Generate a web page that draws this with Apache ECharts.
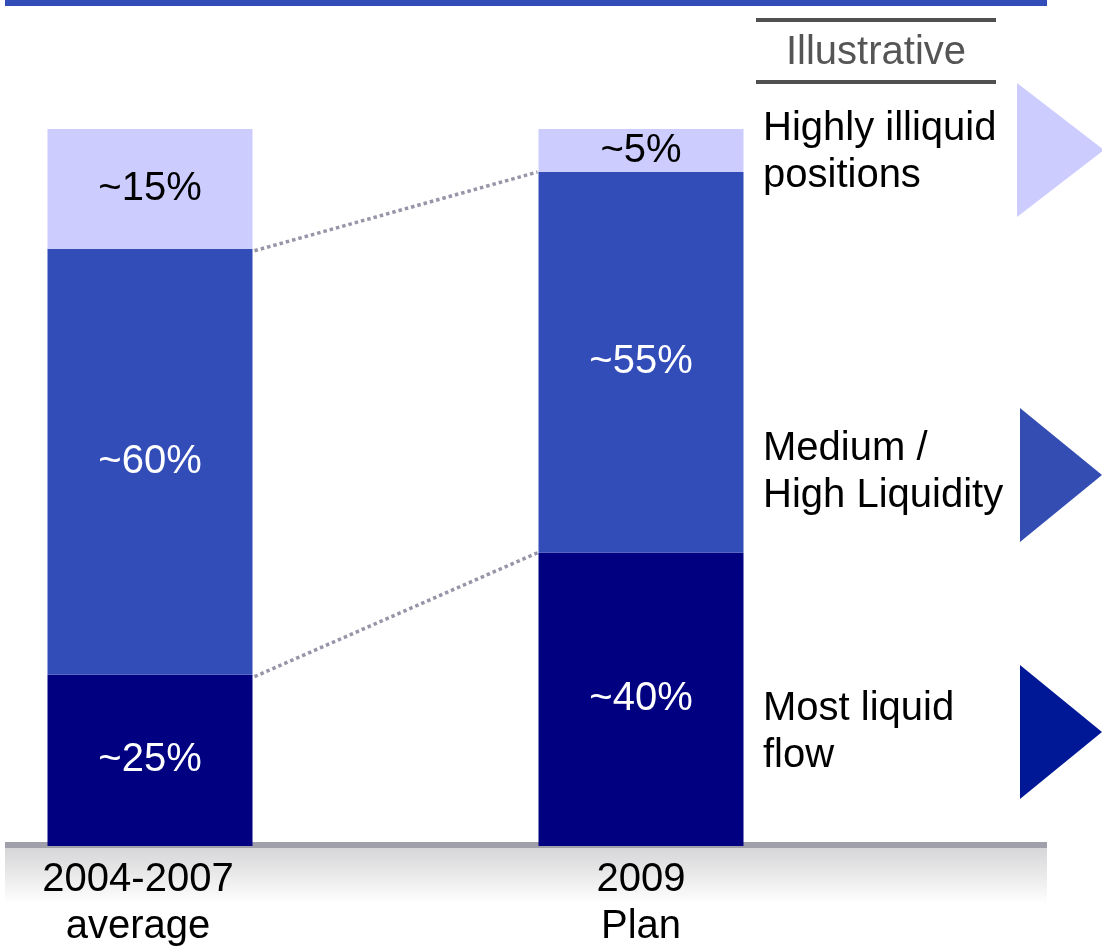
<!DOCTYPE html>
<html>
<head>
<meta charset="utf-8">
<script src="https://cdn.jsdelivr.net/npm/echarts@6/dist/echarts.min.js"></script>
<style>html,body{margin:0;padding:0;background:#fff;}#c{width:1102px;height:947px;}</style>
</head>
<body>
<div id="c"></div>
<script>
const categories = ['2004-2007\naverage', '2009\nPlan'];
const mostLiquid = [23.9, 40.9];
const mediumHigh = [59.4, 53.1];
const highlyIlliquid = [16.7, 6.0];
const labelsMost = ['~25%', '~40%'];
const labelsMedium = ['~60%', '~55%'];
const labelsIlliquid = ['~15%', '~5%'];
const legendTexts = ['Highly illiquid\npositions', 'Medium /\nHigh Liquidity', 'Most liquid\nflow'];

const FONT = 'Liberation Sans, Arial, sans-serif';
const C_LIGHT = '#ccccff', C_MED = '#334db8', C_DARK = '#000080';

const cumLow = mostLiquid.map(v => v);
const cumMid = mostLiquid.map((v, i) => v + mediumHigh[i]);
const connectors = [[0, cumLow[0], cumLow[1]], [0, cumMid[0], cumMid[1]]];

const chart = echarts.init(document.getElementById('c'));
const BW = 205;
function barLabel(arr, color) {
  return {
    show: true, position: 'inside', color: color,
    fontFamily: FONT, fontSize: 40,
    formatter: p => arr[p.dataIndex]
  };
}
chart.setOption({
  animation: false,
  grid: { left: 150, right: 461, top: 129, bottom: 101, containLabel: false, outerBoundsMode: 'none' },
  xAxis: {
    type: 'category', data: categories, boundaryGap: false,
    axisLine: { show: false }, axisTick: { show: false }, splitLine: { show: false },
    axisLabel: {
      margin: 10, color: '#000', fontFamily: FONT, fontSize: 40, lineHeight: 47,
      formatter: (v, i) => i === 0 ? '{a|' + v.split('\n').join('}\n{a|') + '}' : v,
      rich: { a: { fontFamily: FONT, fontSize: 40, lineHeight: 47, color: '#000', padding: [0, 24, 0, 0] } }
    }
  },
  yAxis: { type: 'value', min: 0, max: 100, show: false, splitLine: { show: false } },
  series: [
    { type: 'bar', stack: 't', barWidth: BW, clip: false, data: mostLiquid, itemStyle: { color: C_DARK }, label: barLabel(labelsMost, '#fff') },
    { type: 'bar', stack: 't', barWidth: BW, clip: false, data: mediumHigh, itemStyle: { color: C_MED }, label: barLabel(labelsMedium, '#fff') },
    { type: 'bar', stack: 't', barWidth: BW, clip: false, data: highlyIlliquid, itemStyle: { color: C_LIGHT }, label: barLabel(labelsIlliquid, '#000') },
    {
      type: 'custom', data: connectors, encode: { x: 0, y: 1 }, z: 5, clip: false,
      renderItem: function (params, api) {
        const a = api.coord([0, api.value(1)]);
        const b = api.coord([1, api.value(2)]);
        return {
          type: 'line',
          shape: { x1: a[0] + BW / 2 + 2, y1: a[1] + 2, x2: b[0] - BW / 2 - 1, y2: b[1] },
          style: { stroke: '#9696a8', lineWidth: 3.5, lineDash: [3.5, 3], lineCap: 'butt' }
        };
      }
    }
  ],
  graphic: [
    { type: 'rect', z: 0, shape: { x: 5, y: 0, width: 1042, height: 6 }, style: { fill: '#334db8' } },
    { type: 'rect', z: 0, shape: { x: 5, y: 848, width: 1042, height: 56 },
      style: { fill: new echarts.graphic.LinearGradient(0, 0, 0, 1, [{ offset: 0, color: '#d6d6d8' }, { offset: 1, color: '#ffffff' }]) } },
    { type: 'rect', z: 0, shape: { x: 5, y: 842, width: 1042, height: 6 }, style: { fill: '#a0a0aa' } },
    { type: 'rect', z: 0, shape: { x: 756, y: 18, width: 240, height: 4 }, style: { fill: '#505050' } },
    { type: 'rect', z: 0, shape: { x: 756, y: 80, width: 240, height: 4 }, style: { fill: '#505050' } },
    { type: 'text', z: 0, x: 876, y: 53, style: { text: 'Illustrative', fill: '#555555', font: '40px ' + FONT, textAlign: 'center', textVerticalAlign: 'middle' } },
    { type: 'text', z: 0, x: 763, y: 152, style: { text: legendTexts[0], fill: '#000', font: '40px ' + FONT, lineHeight: 47, textAlign: 'left', textVerticalAlign: 'middle' } },
    { type: 'text', z: 0, x: 763, y: 472, style: { text: legendTexts[1], fill: '#000', font: '40px ' + FONT, lineHeight: 47, textAlign: 'left', textVerticalAlign: 'middle' } },
    { type: 'text', z: 0, x: 763, y: 732, style: { text: legendTexts[2], fill: '#000', font: '40px ' + FONT, lineHeight: 47, textAlign: 'left', textVerticalAlign: 'middle' } },
    { type: 'polygon', z: 0, shape: { points: [[1017, 83], [1017, 217], [1104, 150]] }, style: { fill: C_LIGHT } },
    { type: 'polygon', z: 0, shape: { points: [[1020, 408], [1020, 542], [1102, 475]] }, style: { fill: '#334db3' } },
    { type: 'polygon', z: 0, shape: { points: [[1020, 665], [1020, 799], [1102, 732]] }, style: { fill: '#001896' } }
  ]
});
</script>
</body>
</html>
